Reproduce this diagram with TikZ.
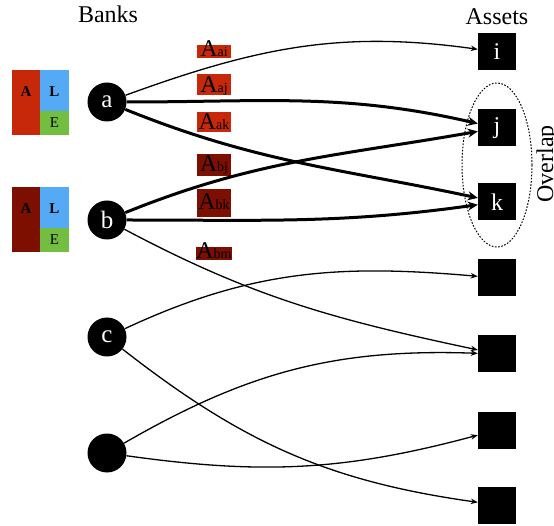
\documentclass[tikz,border=0pt]{standalone}
\usepackage{fontspec}
\setmainfont{Liberation Serif}
\usetikzlibrary{arrows.meta}
\definecolor{redA}{RGB}{200,40,10}
\definecolor{darkA}{RGB}{125,15,0}
\definecolor{blueL}{RGB}{85,170,245}
\definecolor{greenE}{RGB}{115,190,65}
\newcommand{\sbx}[1]{{\fontsize{14}{14}\selectfont #1}}
\begin{document}
\begin{tikzpicture}[x=1pt,y=1pt,
 bank/.style={circle, fill=black, minimum size=39pt, inner sep=0pt, text=white, font=\fontsize{25}{25}\selectfont},
 asset/.style={rectangle, fill=black, minimum width=38pt, minimum height=37pt, inner sep=0pt, text=white, font=\fontsize{24}{24}\selectfont},
 ttl/.style={font=\fontsize{24}{24}\selectfont, inner sep=0pt},
 lbl/.style={inner sep=0pt, minimum width=34pt, anchor=base, font=\fontsize{24}{24}\selectfont},
 cell/.style={inner sep=0pt, minimum width=29pt},
 bsA/.style={inner sep=0pt, font=\fontsize{15}{15}\selectfont\bfseries},
 bsE/.style={inner sep=0pt, font=\fontsize{15}{15}\selectfont},
 thinedge/.style={line width=1.3pt, -{Stealth[length=7pt,width=5.5pt]}},
 thickedge/.style={line width=3pt, -{Stealth[length=10pt,width=9pt]}}
]
\useasboundingbox (0,0) rectangle (554,525);
\clip (0,0) rectangle (554,525);

% titles
\node[ttl, anchor=base] (tb) at (108,502) {Banks};
\node[ttl, anchor=base] (ta) at (497,500) {Assets};

% balance sheets
\node[cell, fill=redA, minimum height=65pt] (aAcell) at (26,422.5) {};
\node[cell, fill=blueL, minimum height=41pt] (aLcell) at (54.5,434.5) {};
\node[cell, fill=greenE, minimum height=24pt] (aEcell) at (54.5,402) {};
\node[bsA] (aAt) at (26,433) {A};
\node[bsA] (aLt) at (54.5,433) {L};
\node[bsE] (aEt) at (54.5,402) {E};

\node[cell, fill=darkA, minimum height=65pt] (bAcell) at (26,305.5) {};
\node[cell, fill=blueL, minimum height=41pt] (bLcell) at (54.5,317.5) {};
\node[cell, fill=greenE, minimum height=24pt] (bEcell) at (54.5,285) {};
\node[bsA] (bAt) at (26,316) {A};
\node[bsA] (bLt) at (54.5,316) {L};
\node[bsE] (bEt) at (54.5,285) {E};

% banks
\node[bank] (a) at (107,423) {a};
\node[bank] (b) at (107,305) {b};
\node[bank] (c) at (107,188) {c};
\node[bank] (d) at (107,72) {};

% assets
\node[asset] (i) at (497,473) {i};
\node[asset] (j) at (497,397) {j};
\node[asset] (k) at (497,323) {k};
\node[asset] (s4) at (497,247) {};
\node[asset] (s5) at (497,171) {};
\node[asset] (s6) at (497,95) {};
\node[asset] (s7) at (497,20) {};

% overlap
\draw[line width=1pt, dash pattern=on 1.6pt off 1.6pt] (497,360) ellipse [x radius=35, y radius=82];
\node[ttl, rotate=90, anchor=base] (ov) at (553,361) {Overlap};

% exposure labels
\node[lbl, fill=redA, text height=12pt, text depth=1pt] (Aai) at (214,468) {A\sbx{ai}};
\node[lbl, fill=redA, text height=19pt, text depth=2pt] (Aaj) at (214,432) {A\sbx{aj}};
\node[lbl, fill=redA, text height=18pt, text depth=2pt] (Aak) at (214,395) {A\sbx{ak}};
\node[lbl, fill=darkA, text height=18pt, text depth=4pt] (Abj) at (214,353) {A\sbx{bj}};
\node[lbl, fill=darkA, text height=21pt, text depth=7pt] (Abk) at (214,315) {A\sbx{bk}};
\node[lbl, fill=darkA, text height=12pt, text depth=1pt] (Abm) at (214,266) {A\sbx{bm}};

% edges
\draw[thinedge] (a) to[out=20, in=172] (i);
\draw[thickedge] (a) to[out=0, in=167] (j);
\draw[thickedge] (a) to[out=-22, in=168] (k);
\draw[thickedge] (b) to[out=22, in=190] (j);
\draw[thickedge] (b) to[out=0, in=188] (k);
\draw[thinedge] (b) to[out=-28, in=168] (s5);
\draw[thinedge] (c) to[out=25, in=175] (s4);
\draw[thinedge] (c) to[out=-38, in=172] (s7);
\draw[thinedge] (d) to[out=30, in=178] (s5);
\draw[thinedge] (d) to[out=-8, in=195] (s6);
\end{tikzpicture}
\end{document}
